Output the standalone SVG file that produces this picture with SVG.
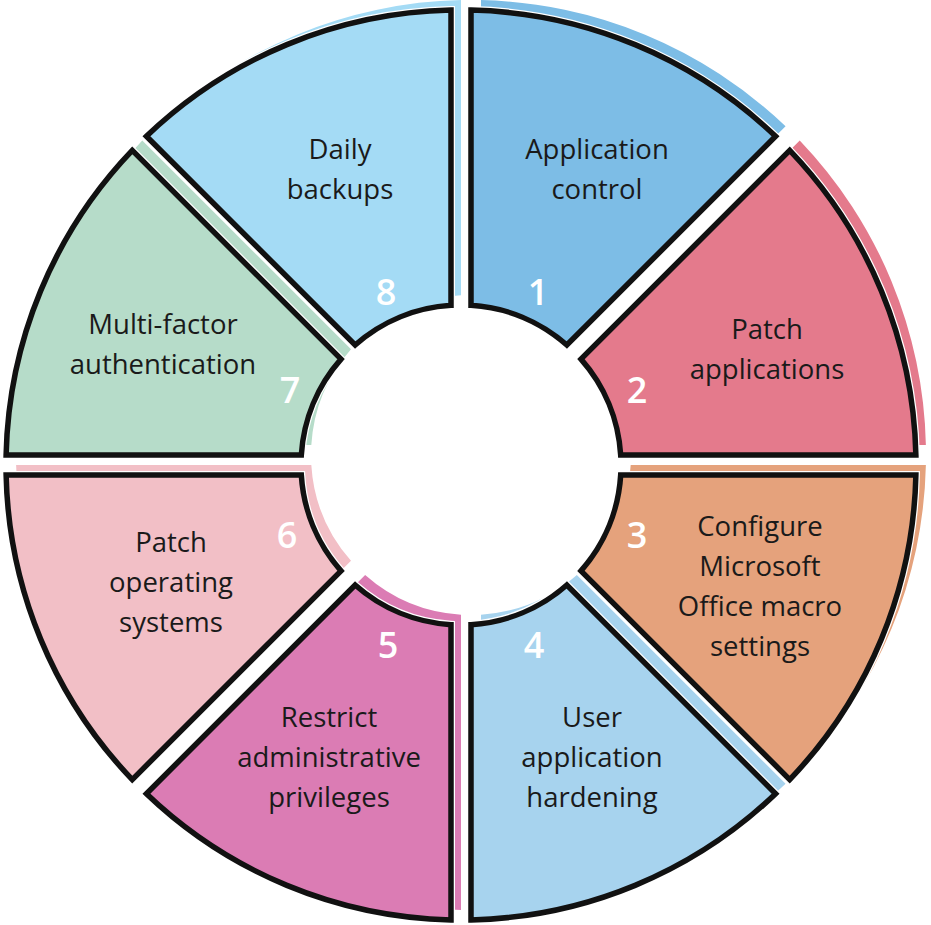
<svg xmlns="http://www.w3.org/2000/svg" xmlns:xlink="http://www.w3.org/1999/xlink" width="931" height="925" viewBox="0 0 931 925">
<style>
.l{font-family:"Open Sans","Noto Sans",sans-serif;font-size:27.5px;fill:#1a1a1a;text-anchor:middle}
.n{font-family:"Open Sans","Noto Sans",sans-serif;font-size:36px;font-weight:600;fill:#fff;text-anchor:middle}
.o{stroke:#111;stroke-width:5.5;stroke-linejoin:miter}
.w{fill:none;stroke:#fff;stroke-width:8}
</style>
<defs>
<path id="seg" d="M 10,-454.89 A 455 455 0 0 1 314.58,-328.72 L 105.85,-119.99 A 160 160 0 0 0 10,-159.69 Z"/>
</defs>
<rect width="931" height="925" fill="#fff"/>
<g id="c" transform="translate(471,455)">
<g id="n1"><use xlink:href="#seg" fill="#7dbde6"/><g transform="translate(-10,10)"><use xlink:href="#seg" class="w"/><use xlink:href="#seg" class="o" fill="#7dbde6"/></g></g>
<g id="n2"><use xlink:href="#seg" fill="#e47a8c" transform="rotate(45)"/><g transform="translate(-10,10)"><use xlink:href="#seg" class="w" transform="rotate(45)"/><use xlink:href="#seg" class="o" fill="#e47a8c" transform="rotate(45)"/></g></g>
<g id="n3"><use xlink:href="#seg" fill="#e5a27c" transform="rotate(90)"/><g transform="translate(-10,10)"><use xlink:href="#seg" class="w" transform="rotate(90)"/><use xlink:href="#seg" class="o" fill="#e5a27c" transform="rotate(90)"/></g></g>
<g id="n4"><use xlink:href="#seg" fill="#a7d3ee" transform="rotate(135)"/><g transform="translate(-10,10)"><use xlink:href="#seg" class="w" transform="rotate(135)"/><use xlink:href="#seg" class="o" fill="#a7d3ee" transform="rotate(135)"/></g></g>
<g id="n5"><use xlink:href="#seg" fill="#db7cb4" transform="rotate(180)"/><g transform="translate(-10,10)"><use xlink:href="#seg" class="w" transform="rotate(180)"/><use xlink:href="#seg" class="o" fill="#db7cb4" transform="rotate(180)"/></g></g>
<g id="n6"><use xlink:href="#seg" fill="#f2bfc6" transform="rotate(225)"/><g transform="translate(-10,10)"><use xlink:href="#seg" class="w" transform="rotate(225)"/><use xlink:href="#seg" class="o" fill="#f2bfc6" transform="rotate(225)"/></g></g>
<g id="n7"><use xlink:href="#seg" fill="#b6dcc9" transform="rotate(270)"/><g transform="translate(-10,10)"><use xlink:href="#seg" class="w" transform="rotate(270)"/><use xlink:href="#seg" class="o" fill="#b6dcc9" transform="rotate(270)"/></g></g>
<g id="n8"><use xlink:href="#seg" fill="#a4dbf5" transform="rotate(315)"/><g transform="translate(-10,10)"><use xlink:href="#seg" class="w" transform="rotate(315)"/><use xlink:href="#seg" class="o" fill="#a4dbf5" transform="rotate(315)"/></g></g>
</g>
<g id="labels">
<text class="l" x="597" y="159">Application</text><text class="l" x="597" y="199">control</text><text class="n" x="538" y="305">1</text>
<text class="l" x="767" y="339">Patch</text><text class="l" x="767" y="379">applications</text><text class="n" x="637" y="403">2</text>
<text class="l" x="760" y="536">Configure</text><text class="l" x="760" y="576">Microsoft</text><text class="l" x="760" y="616">Office macro</text><text class="l" x="760" y="656">settings</text><text class="n" x="637" y="548">3</text>
<text class="l" x="592" y="727">User</text><text class="l" x="592" y="767">application</text><text class="l" x="592" y="807">hardening</text><text class="n" x="534" y="658">4</text>
<text class="l" x="329" y="727">Restrict</text><text class="l" x="329" y="767">administrative</text><text class="l" x="329" y="807">privileges</text><text class="n" x="388" y="658">5</text>
<text class="l" x="171" y="552">Patch</text><text class="l" x="171" y="592">operating</text><text class="l" x="171" y="632">systems</text><text class="n" x="287" y="548">6</text>
<text class="l" x="163" y="334">Multi-factor</text><text class="l" x="163" y="374">authentication</text><text class="n" x="290" y="403">7</text>
<text class="l" x="340" y="159">Daily</text><text class="l" x="340" y="199">backups</text><text class="n" x="386" y="305">8</text>
</g>
</svg>
